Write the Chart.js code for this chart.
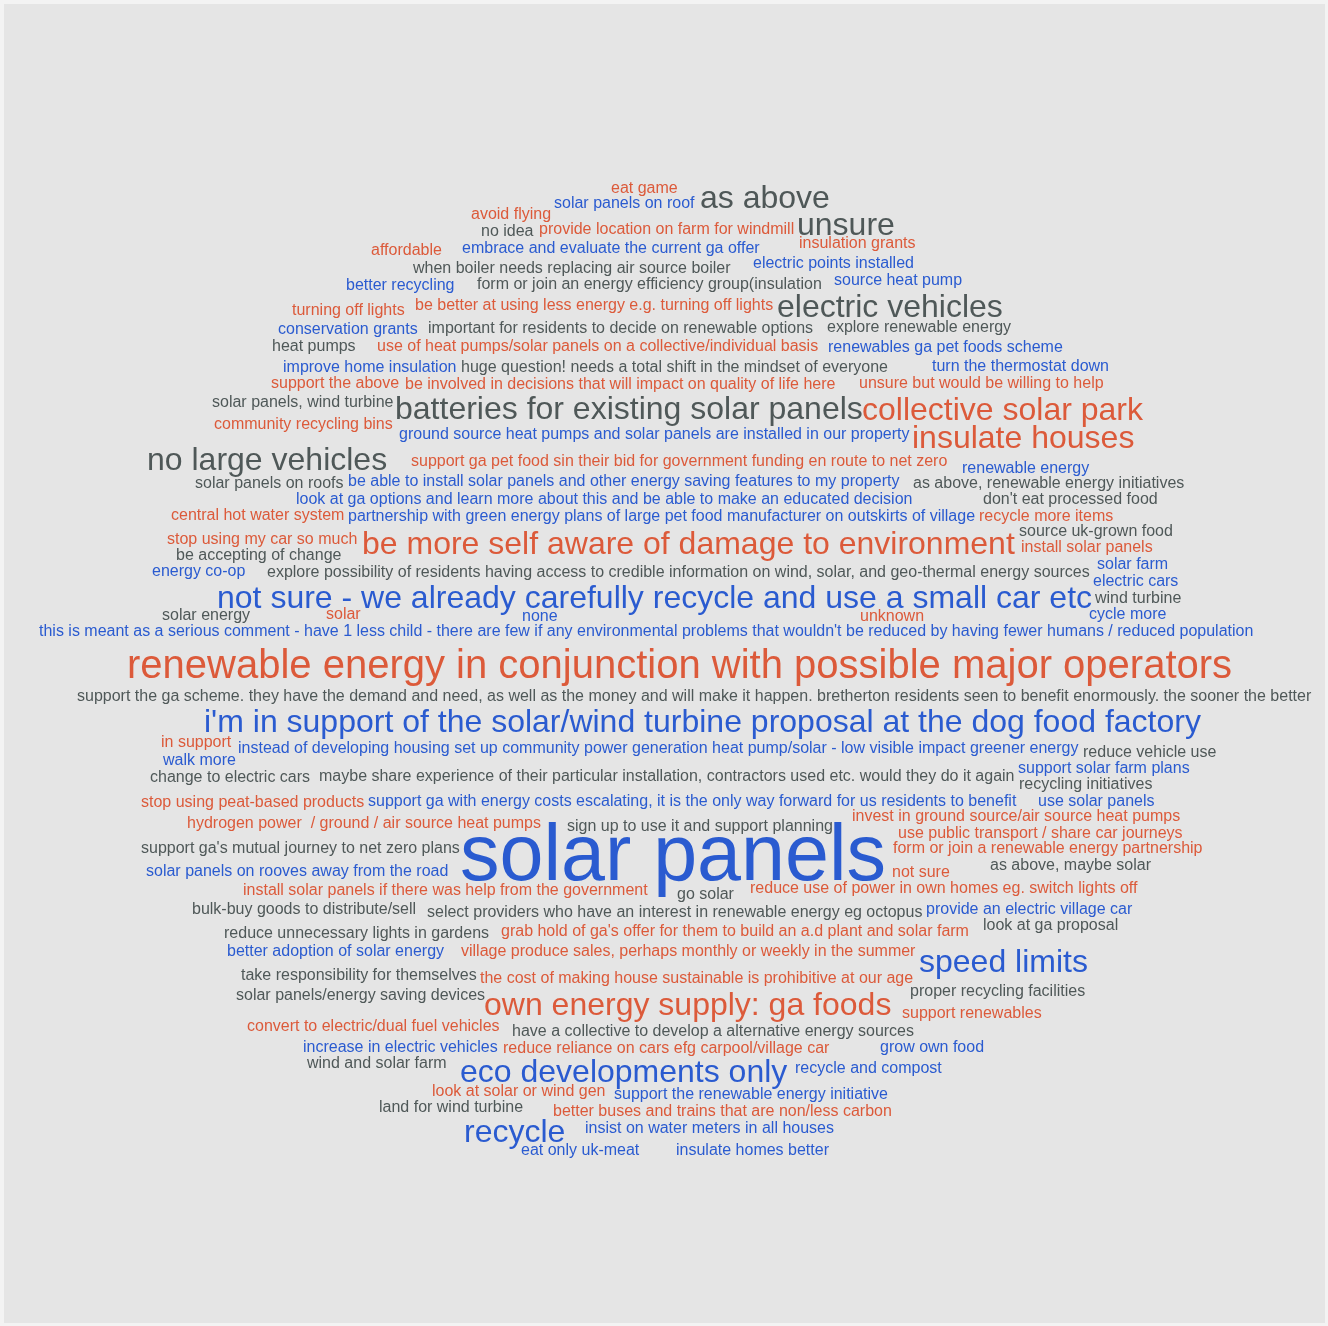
<!DOCTYPE html>
<html>
<head>
<meta charset="utf-8">
<script src="https://cdn.jsdelivr.net/npm/chart.js@4/dist/chart.umd.min.js"></script>
<style>
  html, body { margin: 0; padding: 0; background: #f3f3f3; }
  #wrap { position: relative; width: 1328px; height: 1326px; }
  #panel { position: absolute; left: 4px; top: 4px; width: 1321px; height: 1319px; background: #e5e5e5; }
  canvas { position: absolute; left: 0; top: 0; }
</style>
</head>
<body>
<div id="wrap"><div id="panel"></div><canvas id="c" width="1328" height="1326"></canvas></div>
<script>
// ---- data: survey answers and how often each was given ----
const phrases = [
  "eat game", "solar panels on roof", "as above", "avoid flying", "no idea",
  "provide location on farm for windmill", "unsure", "affordable",
  "embrace and evaluate the current ga offer", "insulation grants",
  "when boiler needs replacing air source boiler", "electric points installed",
  "better recycling", "form or join an energy efficiency group(insulation",
  "source heat pump", "turning off lights",
  "be better at using less energy e.g. turning off lights", "electric vehicles",
  "conservation grants", "important for residents to decide on renewable options",
  "explore renewable energy", "heat pumps",
  "use of heat pumps/solar panels on a collective/individual basis",
  "renewables ga pet foods scheme", "improve home insulation",
  "huge question! needs a total shift in the mindset of everyone",
  "turn the thermostat down", "support the above",
  "be involved in decisions that will impact on quality of life here",
  "unsure but would be willing to help", "solar panels, wind turbine",
  "batteries for existing solar panels", "collective solar park",
  "community recycling bins",
  "ground source heat pumps and solar panels are installed in our property",
  "insulate houses", "no large vehicles",
  "support ga pet food sin their bid for government funding en route to net zero",
  "renewable energy", "solar panels on roofs",
  "be able to install solar panels and other energy saving features to my property",
  "as above, renewable energy initiatives",
  "look at ga options and learn more about this and be able to make an educated decision",
  "don't eat processed food", "central hot water system",
  "partnership with green energy plans of large pet food manufacturer on outskirts of village",
  "recycle more items", "source uk-grown food", "stop using my car so much",
  "be more self aware of damage to environment", "install solar panels",
  "be accepting of change", "solar farm", "energy co-op",
  "explore possibility of residents having access to credible information on wind, solar, and geo-thermal energy sources",
  "electric cars", "wind turbine",
  "not sure - we already carefully recycle and use a small car etc",
  "cycle more", "solar energy", "solar", "none", "unknown",
  "this is meant as a serious comment - have 1 less child - there are few if any environmental problems that wouldn't be reduced by having fewer humans / reduced population",
  "renewable energy in conjunction with possible major operators",
  "support the ga scheme. they have the demand and need, as well as the money and will make it happen. bretherton residents seen to benefit enormously. the sooner the better",
  "i'm in support of the solar/wind turbine proposal at the dog food factory",
  "in support",
  "instead of developing housing set up community power generation heat pump/solar - low visible impact greener energy",
  "reduce vehicle use", "walk more", "support solar farm plans",
  "change to electric cars",
  "maybe share experience of their particular installation, contractors used etc. would they do it again",
  "recycling initiatives", "stop using peat-based products",
  "support ga with energy costs escalating, it is the only way forward for us residents to benefit",
  "use solar panels", "invest in ground source/air source heat pumps",
  "hydrogen power  / ground / air source heat pumps",
  "sign up to use it and support planning",
  "use public transport / share car journeys",
  "support ga's mutual journey to net zero plans",
  "form or join a renewable energy partnership", "solar panels",
  "as above, maybe solar", "solar panels on rooves away from the road", "not sure",
  "reduce use of power in own homes eg. switch lights off",
  "install solar panels if there was help from the government", "go solar",
  "bulk-buy goods to distribute/sell", "provide an electric village car",
  "select providers who have an interest in renewable energy eg octopus",
  "look at ga proposal",
  "grab hold of ga's offer for them to build an a.d plant and solar farm",
  "reduce unnecessary lights in gardens", "better adoption of solar energy",
  "village produce sales, perhaps monthly or weekly in the summer",
  "speed limits", "take responsibility for themselves",
  "the cost of making house sustainable is prohibitive at our age",
  "proper recycling facilities", "solar panels/energy saving devices",
  "own energy supply: ga foods", "support renewables",
  "convert to electric/dual fuel vehicles",
  "have a collective to develop a alternative energy sources",
  "increase in electric vehicles",
  "reduce reliance on cars efg carpool/village car", "grow own food",
  "wind and solar farm", "eco developments only", "recycle and compost",
  "look at solar or wind gen", "support the renewable energy initiative",
  "land for wind turbine", "better buses and trains that are non/less carbon",
  "recycle", "insist on water meters in all houses", "eat only uk-meat",
  "insulate homes better"
];

const mentions = [
  1,1,2,1,1, 1,2,1, 1,1, 1,1, 1,1, 1,1, 1,2, 1,1, 1,1, 1, 1,1, 1, 1,1, 1, 1,1,
  2,2, 1, 1, 2,2, 1, 1,1, 1, 1, 1, 1,1, 1, 1,1,1, 2,1, 1,1,1, 1, 1,1, 2,
  1,1,1,1,1, 1, 3, 1, 2, 1, 1, 1,1,1, 1, 1, 1,1, 1, 1,1, 1, 1, 1, 1, 1,6,
  1,1,1, 1, 1,1, 1,1, 1, 1, 1, 1,1, 1, 2,1, 1, 1,1, 2,1, 1, 1, 1, 1,1,
  1,2,1, 1,1, 1,1, 2,1,1, 1
];

// ---- layout of the cloud (where each answer sits, and its colour group) ----
const cloudX = [
  611,554,700,471,481, 539,797,371, 462,799, 413,753, 346,477, 834,292, 415,777,
  278,428, 827,272, 377, 828,283, 461, 932,271, 405, 859,212, 395,862, 214, 399,
  912,147, 411, 962,195, 348, 913, 296, 983,171, 348, 979,1019,167, 362,1021,
  176,1097,152, 267, 1093,1095, 217, 1089,162,326,522,860, 39, 127, 77, 204, 161,
  238, 1083,163,1018, 150, 319, 1019,141, 368, 1038,852, 187, 567, 898, 141,
  893,460, 990,146,892, 750, 243,677, 192,926, 427, 983, 501, 224,227, 461,
  919,241, 480, 910,236, 484,902, 247, 512, 303, 503,880, 307,460,795, 432,614,
  379,553, 464,585,521, 676
];
const cloudY = [
  193,208,208,219,236, 234,235,255, 253,248, 273,268, 290,289, 285,315, 310,317,
  334,333, 332,351, 351, 352,372, 372, 371,388, 389, 388,407, 419,420, 429, 439,
  448,470, 466, 473,488, 486, 488, 504, 504,520, 521, 521,536,544, 554,552,
  560,569,576, 577, 586,603, 608, 619,620,619,621,621, 636, 678, 701, 732, 747,
  753, 757,765,773, 782, 781, 789,807, 806, 806,821, 828, 831, 838, 853,
  853,880, 870,876,877, 893, 895,899, 914,914, 917, 930, 936, 938,956, 956,
  972,980, 983, 996,1000, 1015,1018, 1031, 1036, 1052, 1053,1052, 1068,1082,1073, 1096,1099,
  1112,1116, 1142,1133,1155, 1155
];
// 0 = orange, 1 = blue, 2 = slate grey
const tone = [
  0,1,2,0,2, 0,2,0, 1,0, 2,1, 1,2, 1,0, 0,2, 1,2, 2,2, 0, 1,1, 2, 1,0, 0, 0,2,
  2,0, 0, 1, 0,2, 0, 1,2, 1, 2, 1, 2,0, 1, 0,2,0, 0,0, 2,1,1, 2, 1,2, 1,
  1,2,0,1,0, 1, 0, 2, 1, 0, 1, 2,1,1, 2, 2, 2,0, 1, 1,0, 0, 2, 0, 2, 0,1,
  2,1,0, 0, 0,2, 2,1, 2, 2, 0, 2,1, 0, 1,2, 0, 2,2, 0,0, 0, 2, 1, 0,1, 2,1,1,
  0,1, 2,0, 1,1,1, 1
];

const toneColours = ["#dc5a3a", "#2a5bd0", "#4f5858"];
const sizeForMentions = { 1: 16, 2: 32, 3: 40, 6: 79 };
const FONT = '"Liberation Sans", Arial, Helvetica, sans-serif';

const points = phrases.map((p, i) => ({ x: cloudX[i], y: cloudY[i] }));

const wordPlugin = {
  id: 'wordcloud',
  afterDatasetsDraw(chart) {
    const ctx = chart.ctx;
    const meta = chart.getDatasetMeta(0);
    ctx.save();
    ctx.textAlign = 'left';
    ctx.textBaseline = 'alphabetic';
    meta.data.forEach((el, i) => {
      const size = sizeForMentions[mentions[i]] || 16;
      ctx.font = size + 'px ' + FONT;
      ctx.fillStyle = toneColours[tone[i]];
      ctx.fillText(phrases[i], el.x, el.y);
    });
    ctx.restore();
  }
};

new Chart(document.getElementById('c'), {
  type: 'scatter',
  data: {
    datasets: [{
      label: 'answers',
      data: points,
      pointRadius: 0,
      pointHoverRadius: 0,
      backgroundColor: 'rgba(0,0,0,0)'
    }]
  },
  options: {
    responsive: false,
    animation: false,
    devicePixelRatio: 1,
    layout: { padding: 0 },
    plugins: { legend: { display: false }, tooltip: { enabled: false }, title: { display: false } },
    scales: {
      x: { type: 'linear', min: 0, max: 1328, display: false },
      y: { type: 'linear', min: 0, max: 1326, reverse: true, display: false }
    }
  },
  plugins: [wordPlugin]
});
</script>
</body>
</html>
